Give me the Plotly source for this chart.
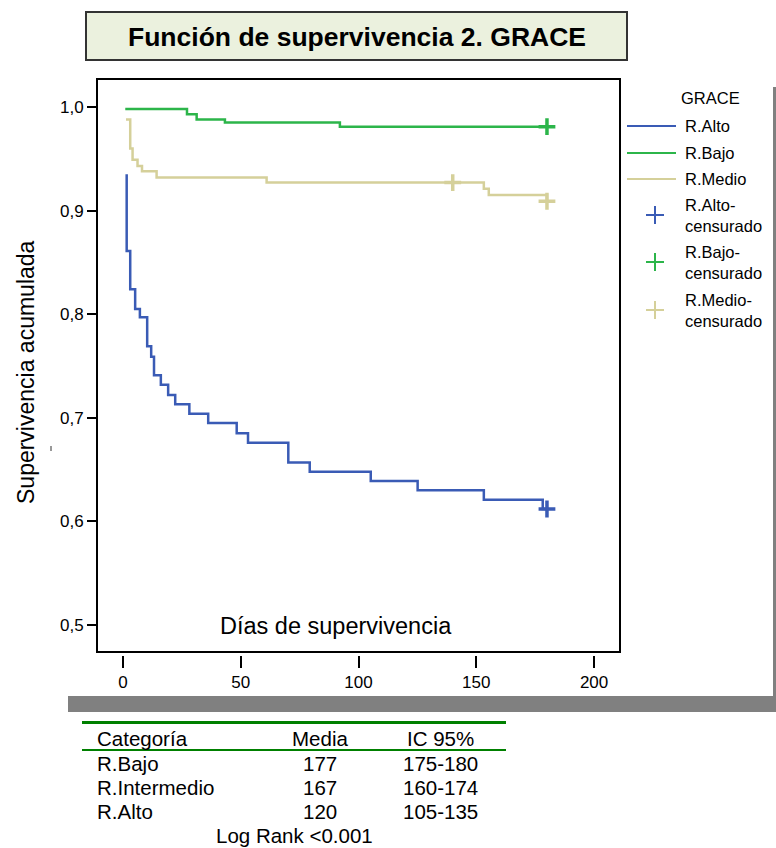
import plotly.graph_objects as go

# ---------------- data ----------------
alto_t = [1.6, 1.6, 3.1, 5.2, 7.2, 10.3, 12.0, 13.2, 16.1, 19.2, 22.2, 28.2, 36.2,
          48.3, 53.1, 70.2, 79.3, 105.2, 125.1, 153.2, 178.2, 180]
alto_s = [0.935, 0.861, 0.824, 0.805, 0.797, 0.769, 0.759, 0.741, 0.732, 0.722, 0.713,
          0.704, 0.695, 0.685, 0.676, 0.657, 0.648, 0.639, 0.630, 0.621, 0.612, 0.612]
bajo_t = [1.0, 27.2, 31.3, 43.3, 92.1, 180]
bajo_s = [0.998, 0.993, 0.988, 0.985, 0.981, 0.981]
medio_t = [1.3, 3.1, 4.1, 6.2, 8.1, 14.3, 61.0, 153.2, 155.3, 180]
medio_s = [0.988, 0.960, 0.949, 0.943, 0.938, 0.932, 0.927, 0.921, 0.915, 0.909]

cens_alto_t = [180]
cens_alto_s = [0.612]
cens_bajo_t = [180]
cens_bajo_s = [0.981]
cens_medio_t = [140, 180]
cens_medio_s = [0.927, 0.909]

x_ticks = [0, 50, 100, 150, 200]
y_ticks = [0.5, 0.6, 0.7, 0.8, 0.9, 1.0]

legend_title = "GRACE"
legend_labels = ["R.Alto", "R.Bajo", "R.Medio",
                 "R.Alto-<br>censurado", "R.Bajo-<br>censurado", "R.Medio-<br>censurado"]

table_header = ["Categoría", "Media", "IC 95%"]
table_cat = ["R.Bajo", "R.Intermedio", "R.Alto"]
table_media = ["177", "167", "120"]
table_ic = ["175-180", "160-174", "105-135"]
log_rank = "Log Rank <0.001"

title = "Función de supervivencia 2. GRACE"
x_title = "Días de supervivencia"
y_title = "Supervivencia acumulada"

# ---------------- style ----------------
BLUE = "#3a5bb5"
GREEN = "#2cb54a"
TAN = "#d5d09a"
FONT = "Liberation Sans, Arial, sans-serif"

W, H = 776, 848
L, R, T, B = 97, 156, 79, 158
PW = W - L - R
PH = H - T - B
PAPER_BOTTOM = H - B


def px(x):
    return (x - L) / PW


def py(y):
    return (PAPER_BOTTOM - y) / PH


fig = go.Figure()

for t, s, c in [(alto_t, alto_s, BLUE), (bajo_t, bajo_s, GREEN), (medio_t, medio_s, TAN)]:
    fig.add_trace(go.Scatter(x=t, y=s, mode="lines", line=dict(color=c, width=2.5, shape="hv"),
                             showlegend=False, hoverinfo="skip"))

for t, s, c in [(cens_alto_t, cens_alto_s, BLUE), (cens_bajo_t, cens_bajo_s, GREEN),
                (cens_medio_t, cens_medio_s, TAN)]:
    fig.add_trace(go.Scatter(x=t, y=s, mode="markers",
                             marker=dict(symbol="cross-thin", size=12, line=dict(color=c, width=3.5)),
                             showlegend=False, hoverinfo="skip"))

shapes = []
annotations = []

# plot frame
shapes.append(dict(type="rect", xref="paper", yref="paper", x0=0, x1=1, y0=py(652), y1=1,
                   line=dict(color="black", width=2)))
# gray shadow bars
shapes.append(dict(type="rect", xref="paper", yref="paper", x0=px(773), x1=px(776.5),
                   y0=py(712), y1=py(87), fillcolor="#808080", line=dict(width=0)))
shapes.append(dict(type="rect", xref="paper", yref="paper", x0=px(68), x1=px(776.5),
                   y0=py(712), y1=py(696), fillcolor="#808080", line=dict(width=0)))
# small stray mark left of the plot
shapes.append(dict(type="line", xref="paper", yref="paper", x0=px(51), x1=px(51),
                   y0=py(451), y1=py(446), line=dict(color="#333333", width=1)))
# title box
shapes.append(dict(type="rect", xref="paper", yref="paper", x0=px(86), x1=px(627),
                   y0=py(60), y1=py(12), fillcolor="#ebf1de", line=dict(color="#333333", width=2)))
annotations.append(dict(xref="paper", yref="paper", x=px(357), y=py(37), text="<b>%s</b>" % title,
                        showarrow=False, font=dict(family=FONT, size=26.5, color="black"),
                        xanchor="center", yanchor="middle"))

# axis titles
annotations.append(dict(xref="paper", yref="paper", x=px(26), y=py(372), text=y_title, textangle=-90,
                        showarrow=False, font=dict(family=FONT, size=23, color="black"),
                        xanchor="center", yanchor="middle"))
annotations.append(dict(xref="paper", yref="paper", x=px(336), y=py(626), text=x_title,
                        showarrow=False, font=dict(family=FONT, size=23.5, color="black"),
                        xanchor="center", yanchor="middle"))

# legend
LF = dict(family=FONT, size=16.5, color="black")
annotations.append(dict(xref="paper", yref="paper", x=px(710), y=py(98), text=legend_title,
                        showarrow=False, font=LF, xanchor="center", yanchor="middle"))
line_rows = [(126, BLUE), (153, GREEN), (179, TAN)]
for (yy, c), lab in zip(line_rows, legend_labels[:3]):
    shapes.append(dict(type="line", xref="paper", yref="paper", x0=px(627), x1=px(676),
                       y0=py(yy), y1=py(yy), line=dict(color=c, width=2)))
    annotations.append(dict(xref="paper", yref="paper", x=px(683), y=py(yy), text=lab,
                            showarrow=False, font=LF, xanchor="left", yanchor="middle",
                            align="left"))
cross_rows = [(215, BLUE), (262, GREEN), (310, TAN)]
for (yy, c), lab in zip(cross_rows, legend_labels[3:]):
    shapes.append(dict(type="line", xref="paper", yref="paper", x0=px(646), x1=px(664),
                       y0=py(yy), y1=py(yy), line=dict(color=c, width=2)))
    shapes.append(dict(type="line", xref="paper", yref="paper", x0=px(655), x1=px(655),
                       y0=py(yy - 9), y1=py(yy + 9), line=dict(color=c, width=2)))
    annotations.append(dict(xref="paper", yref="paper", x=px(683), y=py(yy), text=lab,
                            showarrow=False, font=LF, xanchor="left", yanchor="middle",
                            align="left"))

# table
shapes.append(dict(type="line", xref="paper", yref="paper", x0=px(82), x1=px(506),
                   y0=py(722.5), y1=py(722.5), line=dict(color="#008000", width=3)))
shapes.append(dict(type="line", xref="paper", yref="paper", x0=px(82), x1=px(506),
                   y0=py(750), y1=py(750), line=dict(color="#008000", width=2)))
TF = dict(family=FONT, size=20.5, color="black")
annotations.append(dict(xref="paper", yref="paper", x=px(95), y=py(739), text=table_header[0],
                        showarrow=False, font=TF, xanchor="left", yanchor="middle"))
annotations.append(dict(xref="paper", yref="paper", x=px(320), y=py(739), text=table_header[1],
                        showarrow=False, font=TF, xanchor="center", yanchor="middle"))
annotations.append(dict(xref="paper", yref="paper", x=px(440), y=py(739), text=table_header[2],
                        showarrow=False, font=TF, xanchor="center", yanchor="middle"))
for i, (c, m, ic) in enumerate(zip(table_cat, table_media, table_ic)):
    yy = 763 + 24 * i
    annotations.append(dict(xref="paper", yref="paper", x=px(95), y=py(yy), text=c,
                            showarrow=False, font=TF, xanchor="left", yanchor="middle"))
    annotations.append(dict(xref="paper", yref="paper", x=px(320), y=py(yy), text=m,
                            showarrow=False, font=TF, xanchor="center", yanchor="middle"))
    annotations.append(dict(xref="paper", yref="paper", x=px(440), y=py(yy), text=ic,
                            showarrow=False, font=TF, xanchor="center", yanchor="middle"))
annotations.append(dict(xref="paper", yref="paper", x=px(294), y=py(835), text=log_rank,
                        showarrow=False, font=TF, xanchor="center", yanchor="middle"))

fig.update_layout(
    width=W, height=H,
    margin=dict(l=L, r=R, t=T, b=B, pad=0),
    paper_bgcolor="white", plot_bgcolor="white",
    separators=",.",
    showlegend=False,
    shapes=shapes,
    annotations=annotations,
    xaxis=dict(range=[-11, 211], tickvals=x_ticks, ticks="outside", ticklen=12, tickwidth=2,
               tickcolor="black", showline=False, showgrid=False, zeroline=False,
               anchor="free", position=py(655),
               tickfont=dict(family=FONT, size=17, color="black")),
    yaxis=dict(range=[0.474, 1.027], domain=[py(652), 1], tickvals=y_ticks, tickformat=".1f",
               ticks="outside", ticklen=9, tickwidth=2, tickcolor="black",
               showline=False, showgrid=False, zeroline=False,
               tickfont=dict(family=FONT, size=17, color="black")),
)

fig.write_html("out.html", config={"displayModeBar": False},
               post_script="document.body.style.margin='0px';document.body.style.overflow='hidden';")
